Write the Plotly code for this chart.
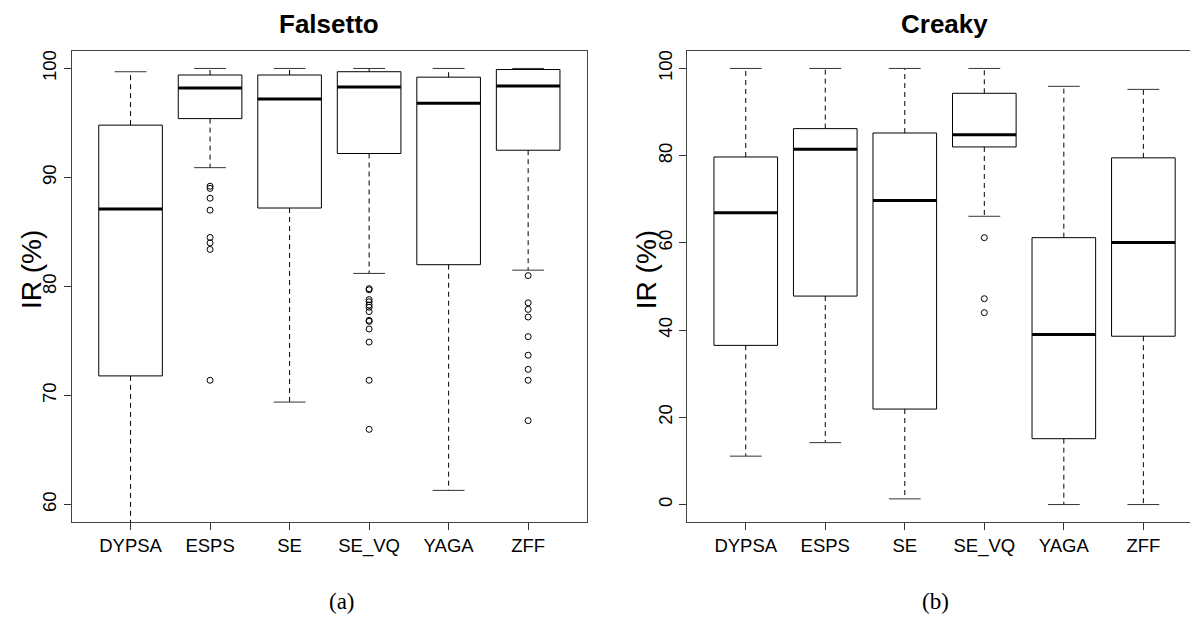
import plotly.graph_objects as go

# ---------------- data ----------------
categories = ["DYPSA", "ESPS", "SE", "SE_VQ", "YAGA", "ZFF"]

falsetto_lower = [40.0, 90.9, 69.4, 81.2, 61.3, 81.5]
falsetto_q1 = [71.8, 95.4, 87.2, 92.2, 82.0, 92.5]
falsetto_median = [87.1, 98.2, 97.2, 98.3, 96.8, 98.4]
falsetto_q3 = [94.8, 99.4, 99.4, 99.7, 99.2, 99.9]
falsetto_upper = [99.7, 100.0, 100.0, 100.0, 100.0, 100.0]
falsetto_outliers = [
    [],
    [89.2, 89.0, 88.1, 87.0, 84.5, 84.0, 83.4, 71.4],
    [],
    [79.8, 79.7, 78.8, 78.6, 78.3, 78.1, 77.7, 76.9, 76.8, 76.1, 74.9, 71.4, 66.9],
    [],
    [81.0, 78.5, 77.9, 77.2, 75.4, 73.7, 72.4, 71.4, 67.7],
]

creaky_lower = [11.1, 14.2, 1.3, 66.1, 0.0, 0.0]
creaky_q1 = [36.5, 47.8, 21.9, 82.0, 15.1, 38.6]
creaky_median = [66.9, 81.5, 69.7, 84.8, 39.0, 60.1]
creaky_q3 = [79.7, 86.2, 85.2, 94.3, 61.2, 79.5]
creaky_upper = [100.0, 100.0, 100.0, 100.0, 95.9, 95.2]
creaky_outliers = [[], [], [], [61.2, 47.2, 44.0], [], []]

falsetto_ticks = [60, 70, 80, 90, 100]
creaky_ticks = [0, 20, 40, 60, 80, 100]

OFF = 8                                   # page body margin in the browser
W, H = 1198 - 2 * OFF, 637 - 2 * OFF      # figure size (fits inside the page)
BOXW = 0.4   # half box width (category units)
CAPW = 0.2   # half staple width
FONT = "Liberation Sans, Arial, Helvetica, sans-serif"


def px(xp):
    return (xp - OFF) / W


def py(yp):
    return 1 - (yp - OFF) / H


def box_traces(lower, q1, med, q3, upper, outliers, xa, ya):
    bx, by, mx, my, wx, wy, cx, cy, ox, oy = [], [], [], [], [], [], [], [], [], []
    for i in range(len(categories)):
        c = i + 1
        bx += [c - BOXW, c + BOXW, c + BOXW, c - BOXW, c - BOXW, None]
        by += [q1[i], q1[i], q3[i], q3[i], q1[i], None]
        mx += [c - BOXW, c + BOXW, None]
        my += [med[i], med[i], None]
        wx += [c, c, None, c, c, None]
        wy += [q3[i], upper[i], None, q1[i], lower[i], None]
        cx += [c - CAPW, c + CAPW, None, c - CAPW, c + CAPW, None]
        cy += [upper[i], upper[i], None, lower[i], lower[i], None]
        for v in outliers[i]:
            ox.append(c)
            oy.append(v)
    common = dict(xaxis=xa, yaxis=ya, showlegend=False, hoverinfo="skip")
    return [
        go.Scatter(x=wx, y=wy, mode="lines", line=dict(color="black", width=1, dash="5px,4px"), **common),
        go.Scatter(x=cx, y=cy, mode="lines", line=dict(color="#333", width=1), **common),
        go.Scatter(x=bx, y=by, mode="lines", line=dict(color="black", width=1), **common),
        go.Scatter(x=mx, y=my, mode="lines", line=dict(color="black", width=3), **common),
        go.Scatter(x=ox, y=oy, mode="markers",
                   marker=dict(symbol="circle-open", size=6, color="black", line=dict(width=1)),
                   **common),
    ]


fig = go.Figure()
for t in box_traces(falsetto_lower, falsetto_q1, falsetto_median, falsetto_q3,
                    falsetto_upper, falsetto_outliers, "x", "y"):
    fig.add_trace(t)
for t in box_traces(creaky_lower, creaky_q1, creaky_median, creaky_q3,
                    creaky_upper, creaky_outliers, "x2", "y2"):
    fig.add_trace(t)

# plot-area geometry (viewport pixels)
top, bottom = 51, 522
left1, right1 = 71.7, 587.0
left2, right2 = 686.9, 1198.0
unit = (right1 - left1) / 6.48
right2_vis = min(right2, OFF + W)

axis_common = dict(showgrid=False, zeroline=False, showline=True,
                   linecolor="#444", linewidth=1, ticks="outside", ticklen=7,
                   tickcolor="#333", tickwidth=1, automargin=False,
                   tickfont=dict(family=FONT, size=18.5, color="black"))

fig.update_layout(
    width=W, height=H,
    margin=dict(l=0, r=0, t=0, b=0),
    paper_bgcolor="white", plot_bgcolor="white",
    xaxis=dict(domain=[px(left1), px(right1)], range=[0.26, 6.74], anchor="y",
               tickmode="array", tickvals=list(range(1, 7)), ticktext=categories,
               mirror=True, **axis_common),
    yaxis=dict(domain=[py(bottom), py(top)], range=[58.4, 101.6], anchor="x",
               tickmode="array", tickvals=falsetto_ticks, tickangle=-90,
               mirror=True, **axis_common),
    xaxis2=dict(domain=[px(left2), px(right2_vis)],
                range=[0.26, 0.26 + (right2_vis - left2) / unit], anchor="y2",
                tickmode="array", tickvals=list(range(1, 7)), ticktext=categories,
                mirror=True, **axis_common),
    yaxis2=dict(domain=[py(bottom), py(top)], range=[-4, 104], anchor="x2",
                tickmode="array", tickvals=creaky_ticks, tickangle=-90,
                mirror=False, **axis_common),
)

annotations = [
    dict(text="<b>Falsetto</b>", x=px((left1 + right1) / 2), y=py(23.5), font=dict(size=26)),
    dict(text="<b>Creaky</b>", x=px(left2 + (right1 - left1) / 2), y=py(23.5), font=dict(size=26)),
    dict(text="IR (%)", x=px(31), y=py(270), textangle=-90, font=dict(size=28)),
    dict(text="IR (%)", x=px(31 + left2 - left1), y=py(270), textangle=-90, font=dict(size=28)),
    dict(text="(a)", x=px(342), y=py(601),
         font=dict(size=23, family="Liberation Serif, Times New Roman, serif")),
    dict(text="(b)", x=px(936), y=py(601),
         font=dict(size=23, family="Liberation Serif, Times New Roman, serif")),
]
for a in annotations:
    a.setdefault("font", {})
    a["font"].setdefault("family", FONT)
    a["font"]["color"] = "black"
    fig.add_annotation(xref="paper", yref="paper", showarrow=False,
                       xanchor="center", yanchor="middle", **a)

fig.write_html("out.html", config={"displayModeBar": False})
